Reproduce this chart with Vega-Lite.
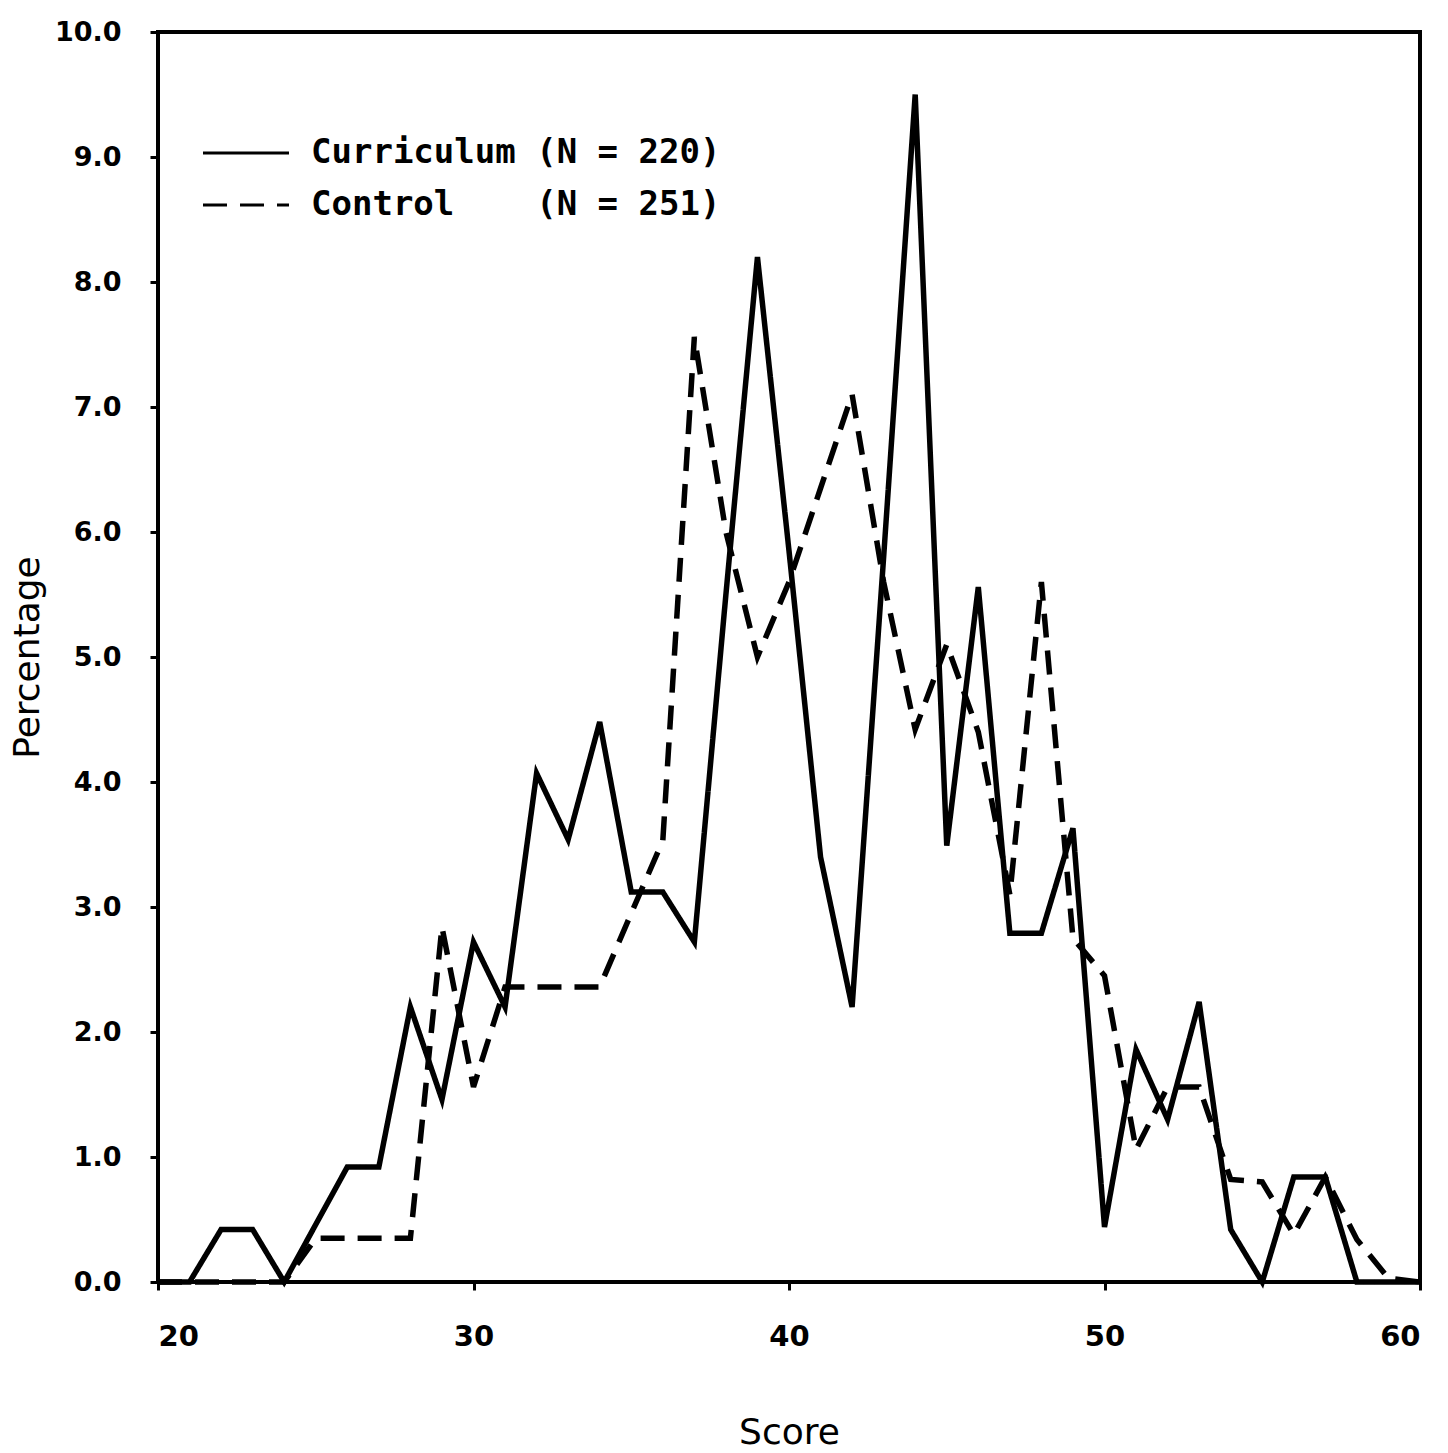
{
  "$schema": "https://vega.github.io/schema/vega-lite/v6.json",
  "width": 1262,
  "height": 1250,
  "autosize": {"type": "none"},
  "padding": {"left": 158, "top": 32, "right": 28, "bottom": 171},
  "background": "white",
  "config": {
    "view": {"stroke": "black", "strokeWidth": 4},
    "axis": {
      "domain": false,
      "grid": false,
      "tickColor": "black",
      "tickWidth": 3,
      "tickSize": 8,
      "labelColor": "black",
      "labelFont": "DejaVu Sans",
      "labelFontWeight": "bold",
      "titleColor": "black",
      "titleFont": "DejaVu Sans",
      "titleFontWeight": "normal",
      "titleFontSize": 36
    }
  },
  "data": {
    "values": [
      {"score": 20, "pct": 0, "group": "Curriculum"},
      {"score": 21, "pct": 0, "group": "Curriculum"},
      {"score": 22, "pct": 0.42, "group": "Curriculum"},
      {"score": 23, "pct": 0.42, "group": "Curriculum"},
      {"score": 24, "pct": 0, "group": "Curriculum"},
      {"score": 25, "pct": 0.46, "group": "Curriculum"},
      {"score": 26, "pct": 0.92, "group": "Curriculum"},
      {"score": 27, "pct": 0.92, "group": "Curriculum"},
      {"score": 28, "pct": 2.2, "group": "Curriculum"},
      {"score": 29, "pct": 1.46, "group": "Curriculum"},
      {"score": 30, "pct": 2.72, "group": "Curriculum"},
      {"score": 31, "pct": 2.2, "group": "Curriculum"},
      {"score": 32, "pct": 4.07, "group": "Curriculum"},
      {"score": 33, "pct": 3.54, "group": "Curriculum"},
      {"score": 34, "pct": 4.48, "group": "Curriculum"},
      {"score": 35, "pct": 3.12, "group": "Curriculum"},
      {"score": 36, "pct": 3.12, "group": "Curriculum"},
      {"score": 37, "pct": 2.72, "group": "Curriculum"},
      {"score": 38, "pct": 5.5, "group": "Curriculum"},
      {"score": 39, "pct": 8.2, "group": "Curriculum"},
      {"score": 40, "pct": 5.85, "group": "Curriculum"},
      {"score": 41, "pct": 3.4, "group": "Curriculum"},
      {"score": 42, "pct": 2.2, "group": "Curriculum"},
      {"score": 43, "pct": 5.8, "group": "Curriculum"},
      {"score": 44, "pct": 9.5, "group": "Curriculum"},
      {"score": 45, "pct": 3.49, "group": "Curriculum"},
      {"score": 46, "pct": 5.56, "group": "Curriculum"},
      {"score": 47, "pct": 2.79, "group": "Curriculum"},
      {"score": 48, "pct": 2.79, "group": "Curriculum"},
      {"score": 49, "pct": 3.63, "group": "Curriculum"},
      {"score": 50, "pct": 0.44, "group": "Curriculum"},
      {"score": 51, "pct": 1.86, "group": "Curriculum"},
      {"score": 52, "pct": 1.3, "group": "Curriculum"},
      {"score": 53, "pct": 2.24, "group": "Curriculum"},
      {"score": 54, "pct": 0.42, "group": "Curriculum"},
      {"score": 55, "pct": 0, "group": "Curriculum"},
      {"score": 56, "pct": 0.84, "group": "Curriculum"},
      {"score": 57, "pct": 0.84, "group": "Curriculum"},
      {"score": 58, "pct": 0, "group": "Curriculum"},
      {"score": 59, "pct": 0, "group": "Curriculum"},
      {"score": 60, "pct": 0, "group": "Curriculum"},
      {"score": 20, "pct": 0, "group": "Control"},
      {"score": 21, "pct": 0, "group": "Control"},
      {"score": 22, "pct": 0, "group": "Control"},
      {"score": 23, "pct": 0, "group": "Control"},
      {"score": 24, "pct": 0, "group": "Control"},
      {"score": 25, "pct": 0.35, "group": "Control"},
      {"score": 26, "pct": 0.35, "group": "Control"},
      {"score": 27, "pct": 0.35, "group": "Control"},
      {"score": 28, "pct": 0.35, "group": "Control"},
      {"score": 29, "pct": 2.84, "group": "Control"},
      {"score": 30, "pct": 1.56, "group": "Control"},
      {"score": 31, "pct": 2.36, "group": "Control"},
      {"score": 32, "pct": 2.36, "group": "Control"},
      {"score": 33, "pct": 2.36, "group": "Control"},
      {"score": 34, "pct": 2.36, "group": "Control"},
      {"score": 35, "pct": 2.95, "group": "Control"},
      {"score": 36, "pct": 3.53, "group": "Control"},
      {"score": 37, "pct": 7.56, "group": "Control"},
      {"score": 38, "pct": 6.0, "group": "Control"},
      {"score": 39, "pct": 5.0, "group": "Control"},
      {"score": 40, "pct": 5.6, "group": "Control"},
      {"score": 41, "pct": 6.35, "group": "Control"},
      {"score": 42, "pct": 7.1, "group": "Control"},
      {"score": 43, "pct": 5.6, "group": "Control"},
      {"score": 44, "pct": 4.42, "group": "Control"},
      {"score": 45, "pct": 5.1, "group": "Control"},
      {"score": 46, "pct": 4.4, "group": "Control"},
      {"score": 47, "pct": 3.1, "group": "Control"},
      {"score": 48, "pct": 5.6, "group": "Control"},
      {"score": 49, "pct": 2.75, "group": "Control"},
      {"score": 50, "pct": 2.45, "group": "Control"},
      {"score": 51, "pct": 1.06, "group": "Control"},
      {"score": 52, "pct": 1.56, "group": "Control"},
      {"score": 53, "pct": 1.56, "group": "Control"},
      {"score": 54, "pct": 0.82, "group": "Control"},
      {"score": 55, "pct": 0.8, "group": "Control"},
      {"score": 56, "pct": 0.38, "group": "Control"},
      {"score": 57, "pct": 0.84, "group": "Control"},
      {"score": 58, "pct": 0.34, "group": "Control"},
      {"score": 59, "pct": 0.03, "group": "Control"},
      {"score": 60, "pct": 0, "group": "Control"}
    ]
  },
  "mark": {"type": "line", "color": "black", "strokeWidth": 5.5, "strokeJoin": "miter"},
  "encoding": {
    "x": {
      "field": "score",
      "type": "quantitative",
      "scale": {"domain": [20, 60], "nice": false, "zero": false},
      "axis": {
        "title": "Score",
        "values": [20, 30, 40, 50, 60],
        "format": "d",
        "labelFontSize": 29,
        "labelPadding": 32,
        "titlePadding": 64
      }
    },
    "y": {
      "field": "pct",
      "type": "quantitative",
      "scale": {"domain": [0, 10], "nice": false},
      "axis": {
        "title": "Percentage",
        "values": [0, 1, 2, 3, 4, 5, 6, 7, 8, 9, 10],
        "format": ".1f",
        "labelFontSize": 27,
        "labelPadding": 29,
        "titlePadding": 8
      }
    },
    "strokeDash": {
      "field": "group",
      "type": "nominal",
      "scale": {"domain": ["Curriculum", "Control"], "range": [[1, 0], [24, 13]]},
      "legend": {
        "title": null,
        "orient": "none",
        "legendX": 43,
        "legendY": 95,
        "padding": 0,
        "symbolType": "stroke",
        "symbolSize": 7400,
        "symbolStrokeWidth": 3,
        "symbolStrokeColor": "black",
        "clipHeight": 52,
        "rowPadding": 0,
        "labelFont": "DejaVu Sans Mono",
        "labelFontWeight": "bold",
        "labelFontSize": 34,
        "labelColor": "black",
        "labelOffset": 20,
        "labelLimit": 600,
        "labelExpr": "datum.label == 'Curriculum' ? 'Curriculum (N = 220)' : 'Control\u00a0\u00a0\u00a0\u00a0(N = 251)'",
        "encode": {
          "symbols": {
            "enter": {
              "strokeDash": {"signal": "datum.label == 'Control' ? [15, 7] : [1, 0]"}
            },
            "update": {
              "strokeDash": {"signal": "datum.label == 'Control' ? [15, 7] : [1, 0]"}
            }
          }
        }
      }
    }
  }
}
